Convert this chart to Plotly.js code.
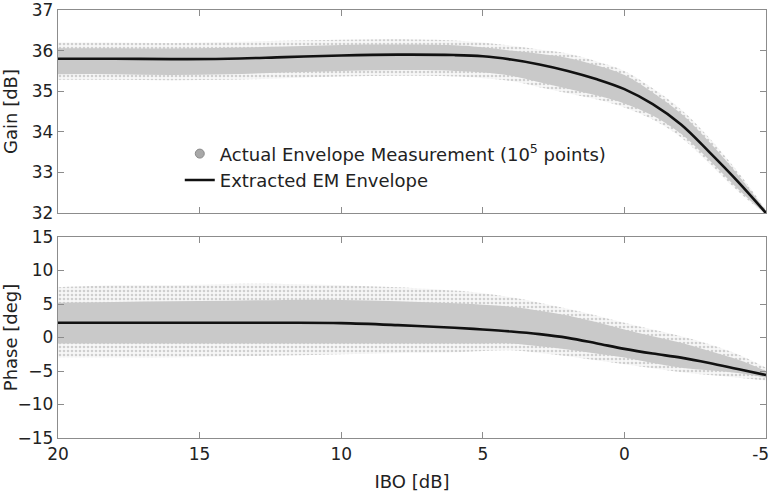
<!DOCTYPE html>
<html>
<head>
<meta charset="utf-8">
<script src="https://cdn.plot.ly/plotly-3.0.1.min.js"></script>
<style>
  html, body { margin: 0; padding: 0; background: #ffffff; }
  #chart { width: 770px; height: 494px; }
</style>
</head>
<body>
<div id="chart"></div>
<script>
// Input back-off grid (dB)
const ibo = [20, 18, 16, 14, 12, 10, 8, 6, 5, 4, 3, 2, 1, 0, -1, -2, -3, -4, -5];

// Extracted EM envelope: gain (dB) and phase (deg)
const gainModel  = [35.80, 35.80, 35.79, 35.80, 35.84, 35.88, 35.90, 35.89, 35.86, 35.78, 35.66, 35.50, 35.30, 35.05, 34.68, 34.18, 33.50, 32.78, 32.00];
const phaseModel = [2.2, 2.2, 2.2, 2.2, 2.2, 2.15, 1.85, 1.45, 1.2, 0.9, 0.5, -0.05, -0.85, -1.7, -2.4, -3.0, -3.8, -4.7, -5.6];

// Spread of the measured envelope cloud: dense core and sparse fringe
const gainCoreHi   = [36.06, 36.06, 36.05, 36.07, 36.10, 36.14, 36.15, 36.13, 36.08, 36.00, 35.92, 35.82, 35.64, 35.40, 34.97, 34.45, 33.75, 32.95, 32.05];
const gainCoreLo   = [35.42, 35.42, 35.40, 35.42, 35.46, 35.50, 35.52, 35.50, 35.46, 35.38, 35.22, 35.06, 34.90, 34.70, 34.40, 33.95, 33.30, 32.60, 31.97];
const gainFringeHi = [36.20, 36.20, 36.19, 36.21, 36.24, 36.27, 36.28, 36.25, 36.20, 36.12, 36.03, 35.93, 35.74, 35.50, 35.07, 34.55, 33.85, 33.02, 32.08];
const gainFringeLo = [35.28, 35.28, 35.27, 35.28, 35.32, 35.36, 35.38, 35.36, 35.32, 35.25, 35.10, 34.95, 34.80, 34.60, 34.30, 33.86, 33.22, 32.54, 31.95];

const phaseCoreHi   = [5.2, 5.3, 5.4, 5.5, 5.6, 5.6, 5.4, 5.1, 4.9, 4.6, 4.0, 3.3, 2.3, 1.2, 0.2, -0.8, -2.0, -3.3, -5.0];
const phaseCoreLo   = [-0.9, -0.9, -0.9, -0.9, -0.9, -0.9, -0.9, -0.9, -0.9, -0.9, -1.3, -1.8, -2.4, -3.0, -3.8, -4.5, -4.9, -5.3, -6.0];
const phaseFringeHi = [7.5, 7.8, 7.8, 8.0, 8.0, 7.8, 7.5, 7.0, 6.6, 6.0, 5.2, 4.3, 3.3, 2.2, 1.2, 0.2, -1.0, -2.5, -4.5];
const phaseFringeLo = [-3.0, -3.0, -3.0, -2.8, -2.7, -2.5, -2.3, -2.2, -2.0, -1.9, -2.3, -2.8, -3.4, -4.0, -4.6, -5.2, -5.6, -6.0, -6.4];

// IBO axis ticks; the last label is padded so it stays inside the page edge
const iboTicks = [20, 15, 10, 5, 0, -5];
const iboTickText = ['20', '15', '10', '5', '0', '-5\u00a0\u00a0'];

const legendNames = ['Actual Envelope Measurement (10<sup>5</sup> points)', 'Extracted EM Envelope'];

const FONT = '"DejaVu Sans", "Liberation Sans", Arial, sans-serif';
const CORE = '#c9c9c9';
const FRINGE = 'rgba(205,205,205,0.55)';

function band(lo, hi, xa, ya, fillcolor, pattern) {
  const base = {x: ibo, y: lo, xaxis: xa, yaxis: ya, mode: 'lines',
                line: {width: 0, shape: 'spline'}, showlegend: false, hoverinfo: 'skip'};
  const top = {x: ibo, y: hi, xaxis: xa, yaxis: ya, mode: 'lines',
               line: {width: 0, shape: 'spline'}, fill: 'tonexty', fillcolor: fillcolor,
               showlegend: false, hoverinfo: 'skip'};
  if (pattern) top.fillpattern = pattern;
  return [base, top];
}

const speckle = {shape: '.', fgcolor: '#cfcfcf', bgcolor: 'rgba(230,230,230,0.35)', size: 4, solidity: 0.35};

const traces = [
  ...band(gainFringeLo, gainFringeHi, 'x2', 'y', FRINGE, speckle),
  ...band(gainCoreLo, gainCoreHi, 'x2', 'y', CORE),
  ...band(phaseFringeLo, phaseFringeHi, 'x', 'y2', FRINGE, speckle),
  ...band(phaseCoreLo, phaseCoreHi, 'x', 'y2', CORE),
  {x: ibo, y: gainModel, xaxis: 'x2', yaxis: 'y', mode: 'lines',
   line: {color: '#111111', width: 2.6, shape: 'spline'}, showlegend: false},
  {x: ibo, y: phaseModel, xaxis: 'x', yaxis: 'y2', mode: 'lines',
   line: {color: '#111111', width: 2.6, shape: 'spline'}, showlegend: false},
  // legend entries
  {x: [null], y: [null], xaxis: 'x2', yaxis: 'y', mode: 'markers', name: legendNames[0],
   marker: {color: '#a8a8a8', size: 9, line: {color: '#8a8a8a', width: 1}}},
  {x: [null], y: [null], xaxis: 'x2', yaxis: 'y', mode: 'lines', name: legendNames[1],
   line: {color: '#111111', width: 2.6}}
];

const axisCommon = {
  showline: true, linecolor: '#8c8c8c', linewidth: 1.3, mirror: 'ticks',
  ticks: 'inside', ticklen: 6, tickcolor: '#8c8c8c', tickwidth: 1,
  showgrid: false, zeroline: false, ticklabeloverflow: 'allow',
  tickfont: {family: FONT, size: 17, color: '#222222'}
};

const TITLE_FONT = {family: FONT, size: 18, color: '#222222'};

const layout = {
  width: 770, height: 494,
  margin: {l: 58, r: 4, t: 10, b: 56},
  paper_bgcolor: '#ffffff', plot_bgcolor: '#ffffff',
  font: {family: FONT, color: '#222222'},
  showlegend: true,
  legend: {x: 0.172, y: 0.707, xanchor: 'left', yanchor: 'top', bgcolor: 'rgba(0,0,0,0)',
           traceorder: 'normal', borderwidth: 0,
           font: {family: FONT, size: 18, color: '#222222'}, tracegroupgap: 0},
  xaxis: Object.assign({}, axisCommon, {
    anchor: 'y2', range: [20, -5], autorange: false,
    tickmode: 'array', tickvals: iboTicks, ticktext: iboTickText,
    title: {text: 'IBO [dB]', font: TITLE_FONT, standoff: 12}
  }),
  xaxis2: Object.assign({}, axisCommon, {
    anchor: 'y', matches: 'x', range: [20, -5], autorange: false,
    tickmode: 'array', tickvals: iboTicks, showticklabels: false
  }),
  yaxis: Object.assign({}, axisCommon, {
    anchor: 'x2', domain: [0.5257, 1], range: [32, 37], autorange: false, dtick: 1,
    title: {text: 'Gain [dB]', font: TITLE_FONT}
  }),
  yaxis2: Object.assign({}, axisCommon, {
    anchor: 'x', domain: [0, 0.4696], range: [-15, 15], autorange: false, dtick: 5,
    title: {text: 'Phase [deg]', font: TITLE_FONT}
  })
};

Plotly.newPlot('chart', traces, layout, {displayModeBar: false, staticPlot: true});
</script>
</body>
</html>
